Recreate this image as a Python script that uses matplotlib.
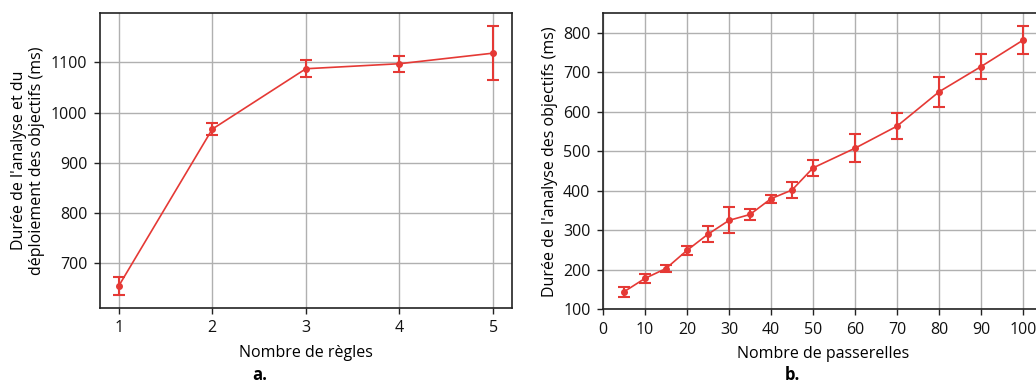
import numpy as np
import matplotlib
matplotlib.use('Agg')
import matplotlib.pyplot as plt

plt.rcParams['font.family'] = ['Open Sans', 'DejaVu Sans']
plt.rcParams['font.size'] = 11.5

# Chart a: number of rules
rules = [1, 2, 3, 4, 5]
rules_mean = [655, 967, 1087, 1097, 1118]
rules_err = [17, 12, 17, 16, 53]

# Chart b: number of gateways
gateways = [5, 10, 15, 20, 25, 30, 35, 40, 45, 50, 60, 70, 80, 90, 100]
gw_mean = [144, 178, 203, 249, 290, 325, 340, 380, 402, 458, 508, 564, 651, 715, 782]
gw_err = [13, 11, 10, 11, 20, 33, 15, 10, 20, 20, 35, 33, 38, 31, 35]

red = '#e53935'
spine_col = '#222222'

fig = plt.figure(figsize=(10.36, 3.85), dpi=100)
ax1 = fig.add_axes([0.0965, 0.2, 0.3975, 0.766])
ax2 = fig.add_axes([0.582, 0.197, 0.4248, 0.7685])

for ax in (ax1, ax2):
    ax.grid(True, color='#b0b0b0', linewidth=1)
    ax.set_axisbelow(True)
    for s in ax.spines.values():
        s.set_color(spine_col)
        s.set_linewidth(1.2)
    ax.tick_params(colors=spine_col, labelcolor='#111111', length=4, width=1, pad=5)

ax1.errorbar(rules, rules_mean, yerr=rules_err, color=red, marker='o',
             markersize=4, linewidth=1.2, capsize=4, elinewidth=1.5, capthick=1.5)
ax1.set_xticks(rules)
ax1.set_yticks([700, 800, 900, 1000, 1100])
ax1.set_xlabel('Nombre de règles', labelpad=6)
ax1.set_ylabel("Durée de l'analyse et du\ndéploiement des objectifs (ms)")

ax2.errorbar(gateways, gw_mean, yerr=gw_err, color=red, marker='o',
             markersize=4, linewidth=1.2, capsize=4, elinewidth=1.5, capthick=1.5)
ax2.set_xlim(0, 104.75)
ax2.set_ylim(100, 850)
ax2.set_xticks(np.arange(0, 101, 10))
ax2.set_yticks(np.arange(100, 801, 100))
ax2.set_xlabel('Nombre de passerelles', labelpad=6)
ax2.set_ylabel("Durée de l'analyse des objectifs (ms)")

fig.text(0.251, 0.025, 'a.', ha='center', va='center', fontweight='bold', fontsize=12)
fig.text(0.765, 0.025, 'b.', ha='center', va='center', fontweight='bold', fontsize=12)

fig.savefig('out.png', dpi=100)
